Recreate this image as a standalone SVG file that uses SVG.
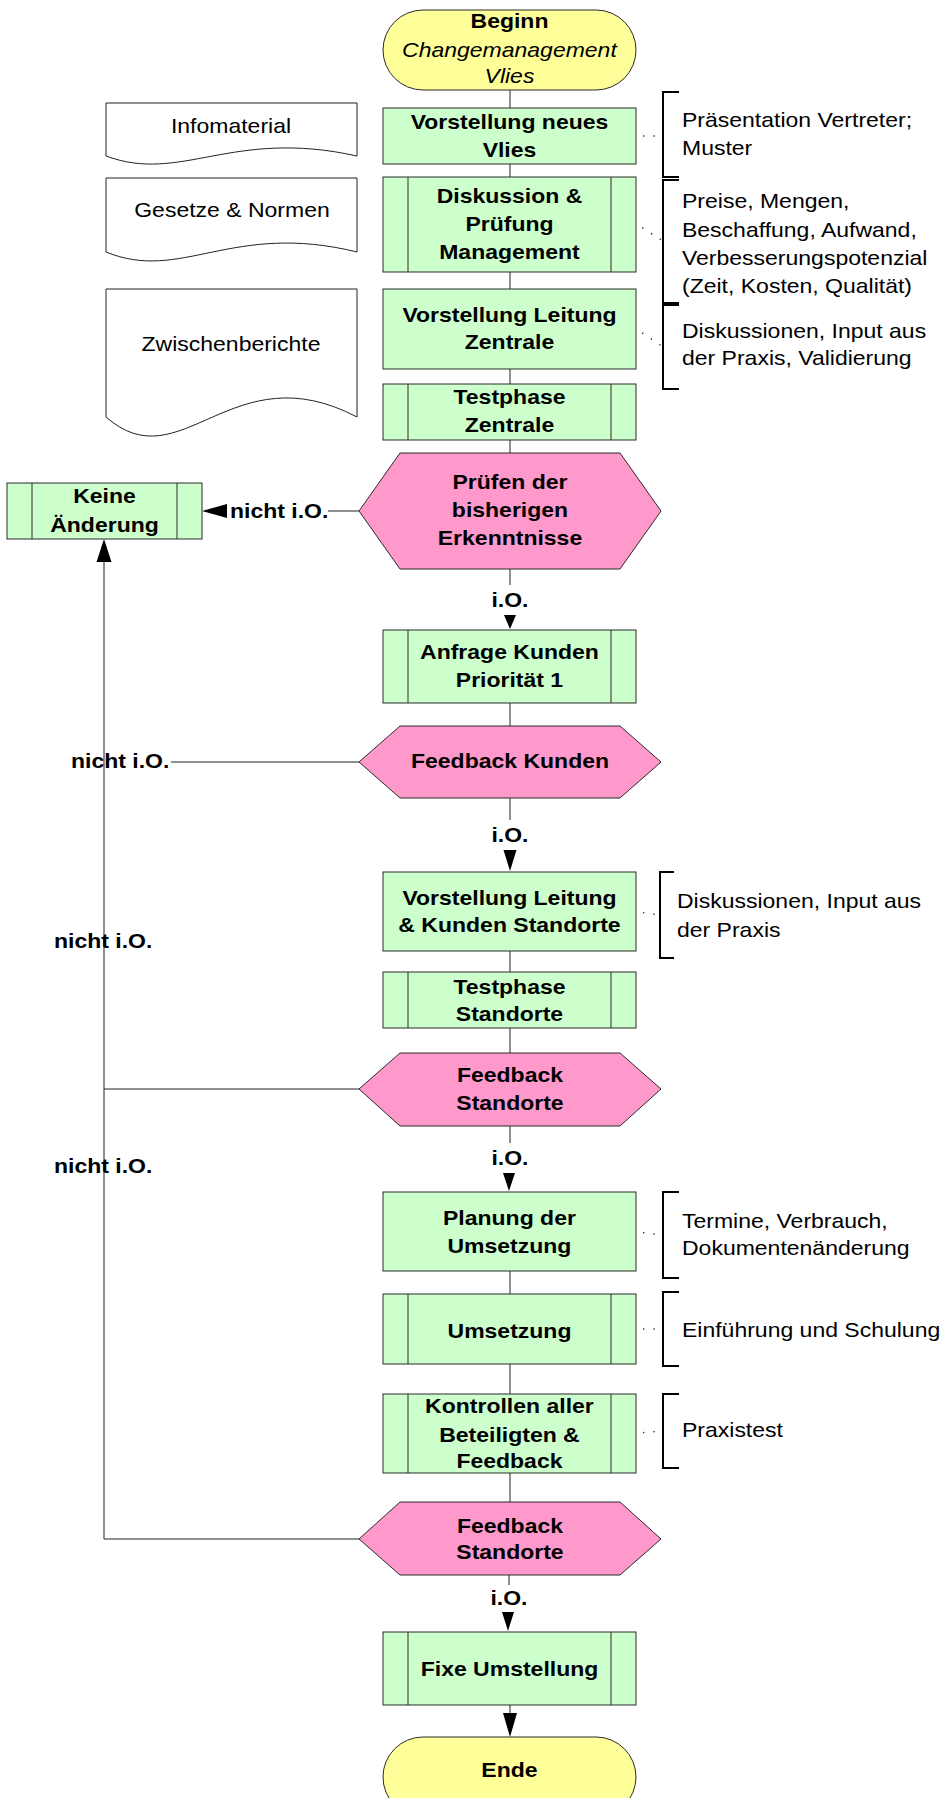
<svg xmlns="http://www.w3.org/2000/svg" width="942" height="1798" viewBox="0 0 942 1798">
<style>
text{font-family:"Liberation Sans",Arial,sans-serif;font-size:20px;fill:#000}
.m{text-anchor:middle;font-weight:bold;transform-box:fill-box;transform-origin:center;transform:scaleX(1.15)}
.mi{font-weight:normal;font-style:italic}
.dm{text-anchor:middle;transform-box:fill-box;transform-origin:center;transform:scaleX(1.15)}
.s{text-anchor:start;transform-box:fill-box;transform-origin:left;transform:scaleX(1.15)}
.lb{text-anchor:start;font-weight:bold;transform-box:fill-box;transform-origin:left;transform:scaleX(1.15)}
.g{fill:#CCFFCC;stroke:#2a2a2a;stroke-width:1}
.p{fill:#FF99CC;stroke:#2a2a2a;stroke-width:1}
.y{fill:#FFFF99;stroke:#2a2a2a;stroke-width:1}
.doc{fill:#fff;stroke:#222;stroke-width:1}
.in{stroke:#2a2a2a;stroke-width:1;fill:none}
.c{stroke:#222;stroke-width:1;fill:none}
.ah{fill:#000;stroke:none}
.br{stroke:#000;stroke-width:2;fill:none}
.dt{stroke:#333;stroke-width:1.4;stroke-dasharray:1.4 9;stroke-dashoffset:-5;fill:none}
</style>

<g id="connectors">
  <line class="c" x1="510" y1="90" x2="510" y2="108"/>
  <line class="c" x1="510" y1="164" x2="510" y2="177"/>
  <line class="c" x1="510" y1="272" x2="510" y2="289"/>
  <line class="c" x1="510" y1="369" x2="510" y2="384"/>
  <line class="c" x1="510" y1="440" x2="510" y2="453"/>
  <line class="c" x1="510" y1="569" x2="510" y2="585"/>
  <text class="m" x="510" y="607">i.O.</text>
  <polygon class="ah" points="510,629 504,615 516,615"/>
  <line class="c" x1="510" y1="703" x2="510" y2="726"/>
  <line class="c" x1="510" y1="798" x2="510" y2="820"/>
  <text class="m" x="510" y="842">i.O.</text>
  <polygon class="ah" points="510,871 503.5,850 516.5,850"/>
  <line class="c" x1="510" y1="951" x2="510" y2="972"/>
  <line class="c" x1="510" y1="1028" x2="510" y2="1053"/>
  <line class="c" x1="510" y1="1126" x2="510" y2="1143"/>
  <text class="m" x="510" y="1165">i.O.</text>
  <polygon class="ah" points="509,1191 503,1173 515,1173"/>
  <line class="c" x1="510" y1="1271" x2="510" y2="1294"/>
  <line class="c" x1="510" y1="1364" x2="510" y2="1394"/>
  <line class="c" x1="510" y1="1473" x2="510" y2="1502"/>
  <line class="c" x1="509" y1="1575" x2="509" y2="1585"/>
  <text class="m" x="509" y="1605">i.O.</text>
  <polygon class="ah" points="508,1631 502,1612 514,1612"/>
  <line class="c" x1="510" y1="1705" x2="510" y2="1713"/>
  <polygon class="ah" points="510,1737 503,1713 517,1713"/>

  <line class="c" x1="359" y1="511" x2="328" y2="511"/>
  <text class="lb" x="230" y="518">nicht i.O.</text>
  <polygon class="ah" points="202,511 227,504 227,518"/>

  <line class="c" x1="359" y1="762" x2="171" y2="762"/>
  <text class="lb" x="71" y="768">nicht i.O.</text>
  <line class="c" x1="359" y1="1089" x2="104" y2="1089"/>
  <line class="c" x1="359" y1="1539" x2="104" y2="1539"/>
  <line class="c" x1="104" y1="1539" x2="104" y2="561"/>
  <polygon class="ah" points="104,539 96.5,562 111.5,562"/>
  <text class="lb" x="54" y="948">nicht i.O.</text>
  <text class="lb" x="54" y="1173">nicht i.O.</text>

  <line class="dt" x1="638" y1="136" x2="663" y2="136"/>
  <line class="dt" x1="638" y1="225" x2="663" y2="241"/>
  <line class="dt" x1="638" y1="330" x2="663" y2="347"/>
  <line class="dt" x1="638" y1="912" x2="660" y2="915"/>
  <line class="dt" x1="638" y1="1232" x2="663" y2="1235"/>
  <line class="dt" x1="638" y1="1329" x2="663" y2="1329"/>
  <line class="dt" x1="638" y1="1433" x2="663" y2="1431"/>
</g>

<g id="start">
  <rect class="y" x="383" y="10" width="253" height="80" rx="40" ry="40"/>
  <text class="m" x="509.5" y="28">Beginn</text>
  <text class="m mi" x="509.5" y="57">Changemanagement</text>
  <text class="m mi" x="509.5" y="83">Vlies</text>
</g>

<g id="vorstellung-neues-vlies">
  <rect class="g" x="383" y="108" width="253" height="56"/>
  <text class="m" x="509.5" y="129"><tspan x="509.5">Vorstellung neues</tspan><tspan x="509.5" y="157">Vlies</tspan></text>
</g>

<g id="diskussion">
  <rect class="g" x="383" y="177" width="253" height="95"/>
  <path class="in" d="M408,177V272M611,177V272"/>
  <text class="m" x="509.5" y="203"><tspan x="509.5">Diskussion &amp;</tspan><tspan x="509.5" y="231">Prüfung</tspan><tspan x="509.5" y="259">Management</tspan></text>
</g>

<g id="vorstellung-leitung-zentrale">
  <rect class="g" x="383" y="289" width="253" height="80"/>
  <text class="m" x="509.5" y="322"><tspan x="509.5">Vorstellung Leitung</tspan><tspan x="509.5" y="349">Zentrale</tspan></text>
</g>

<g id="testphase-zentrale">
  <rect class="g" x="383" y="384" width="253" height="56"/>
  <path class="in" d="M408,384V440M611,384V440"/>
  <text class="m" x="509.5" y="404"><tspan x="509.5">Testphase</tspan><tspan x="509.5" y="432">Zentrale</tspan></text>
</g>

<g id="pruefen">
  <path class="p" d="M359,511L400,453H620L661,511L620,569H400Z"/>
  <text class="m" x="510" y="489"><tspan x="510">Prüfen der</tspan><tspan x="510" y="517">bisherigen</tspan><tspan x="510" y="545">Erkenntnisse</tspan></text>
</g>

<g id="keine-aenderung">
  <rect class="g" x="7" y="483" width="195" height="56"/>
  <path class="in" d="M32,483V539M177,483V539"/>
  <text class="m" x="104.5" y="503"><tspan x="104.5">Keine</tspan><tspan x="104.5" y="532">Änderung</tspan></text>
</g>

<g id="anfrage-kunden">
  <rect class="g" x="383" y="630" width="253" height="73"/>
  <path class="in" d="M408,630V703M611,630V703"/>
  <text class="m" x="509.5" y="659"><tspan x="509.5">Anfrage Kunden</tspan><tspan x="509.5" y="687">Priorität 1</tspan></text>
</g>

<g id="feedback-kunden">
  <path class="p" d="M359,762L400,726H620L661,762L620,798H400Z"/>
  <text class="m" x="510" y="768">Feedback Kunden</text>
</g>

<g id="vorstellung-standorte">
  <rect class="g" x="383" y="872" width="253" height="79"/>
  <text class="m" x="509.5" y="905"><tspan x="509.5">Vorstellung Leitung</tspan><tspan x="509.5" y="932">&amp; Kunden Standorte</tspan></text>
</g>

<g id="testphase-standorte">
  <rect class="g" x="383" y="972" width="253" height="56"/>
  <path class="in" d="M408,972V1028M611,972V1028"/>
  <text class="m" x="509.5" y="994"><tspan x="509.5">Testphase</tspan><tspan x="509.5" y="1021">Standorte</tspan></text>
</g>

<g id="feedback-standorte-1">
  <path class="p" d="M359,1089L400,1053H620L661,1089L620,1126H400Z"/>
  <text class="m" x="510" y="1082"><tspan x="510">Feedback</tspan><tspan x="510" y="1110">Standorte</tspan></text>
</g>

<g id="planung">
  <rect class="g" x="383" y="1192" width="253" height="79"/>
  <text class="m" x="509.5" y="1225"><tspan x="509.5">Planung der</tspan><tspan x="509.5" y="1253">Umsetzung</tspan></text>
</g>

<g id="umsetzung">
  <rect class="g" x="383" y="1294" width="253" height="70"/>
  <path class="in" d="M408,1294V1364M611,1294V1364"/>
  <text class="m" x="509.5" y="1338">Umsetzung</text>
</g>

<g id="kontrollen">
  <rect class="g" x="383" y="1394" width="253" height="79"/>
  <path class="in" d="M408,1394V1473M611,1394V1473"/>
  <text class="m" x="509.5" y="1413"><tspan x="509.5">Kontrollen aller</tspan><tspan x="509.5" y="1442">Beteiligten &amp;</tspan><tspan x="509.5" y="1468">Feedback</tspan></text>
</g>

<g id="feedback-standorte-2">
  <path class="p" d="M359,1539L400,1502H620L661,1539L620,1575H400Z"/>
  <text class="m" x="510" y="1533"><tspan x="510">Feedback</tspan><tspan x="510" y="1559">Standorte</tspan></text>
</g>

<g id="fixe-umstellung">
  <rect class="g" x="383" y="1632" width="253" height="73"/>
  <path class="in" d="M408,1632V1705M611,1632V1705"/>
  <text class="m" x="509.5" y="1676">Fixe Umstellung</text>
</g>

<g id="ende">
  <rect class="y" x="383" y="1737" width="253" height="80" rx="40" ry="40"/>
  <text class="m" x="509.5" y="1777">Ende</text>
</g>

<g id="doc-infomaterial">
  <path class="doc" d="M106,103H357V156C231.5,128 181.3,184 106,156Z"/>
  <text class="dm" x="231" y="133">Infomaterial</text>
</g>
<g id="doc-gesetze">
  <path class="doc" d="M106,178H357V252C231.5,221 181.3,283 106,252Z"/>
  <text class="dm" x="232" y="217">Gesetze &amp; Normen</text>
</g>
<g id="doc-zwischenberichte">
  <path class="doc" d="M106,289H357V417C231.5,351 181.3,483 106,417Z"/>
  <text class="dm" x="231" y="351">Zwischenberichte</text>
</g>

<g id="note-1">
  <path class="br" d="M679,92H663V177H679"/>
  <text class="s" x="682" y="127"><tspan x="682">Präsentation Vertreter;</tspan><tspan x="682" y="155">Muster</tspan></text>
</g>
<g id="note-2">
  <path class="br" d="M679,180H663V303H679"/>
  <text class="s" x="682" y="208"><tspan x="682">Preise, Mengen,</tspan><tspan x="682" y="237">Beschaffung, Aufwand,</tspan><tspan x="682" y="265">Verbesserungspotenzial</tspan><tspan x="682" y="293">(Zeit, Kosten, Qualität)</tspan></text>
</g>
<g id="note-3">
  <path class="br" d="M679,305H663V389H679"/>
  <text class="s" x="682" y="338"><tspan x="682">Diskussionen, Input aus</tspan><tspan x="682" y="365">der Praxis, Validierung</tspan></text>
</g>
<g id="note-4">
  <path class="br" d="M674,872H660V958H674"/>
  <text class="s" x="677" y="908"><tspan x="677">Diskussionen, Input aus</tspan><tspan x="677" y="937">der Praxis</tspan></text>
</g>
<g id="note-5">
  <path class="br" d="M679,1192H663V1278H679"/>
  <text class="s" x="682" y="1228"><tspan x="682">Termine, Verbrauch,</tspan><tspan x="682" y="1255">Dokumentenänderung</tspan></text>
</g>
<g id="note-6">
  <path class="br" d="M679,1292H663V1366H679"/>
  <text class="s" x="682" y="1337">Einführung und Schulung</text>
</g>
<g id="note-7">
  <path class="br" d="M679,1394H663V1468H679"/>
  <text class="s" x="682" y="1437">Praxistest</text>
</g>
</svg>
